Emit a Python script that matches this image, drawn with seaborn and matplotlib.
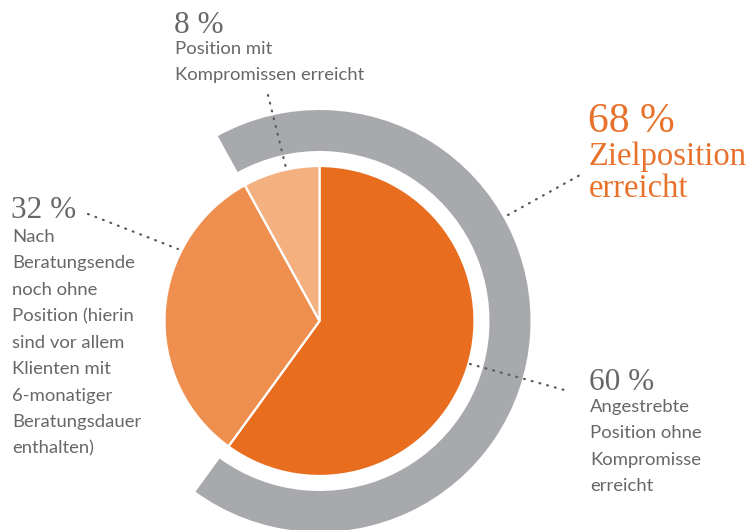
import matplotlib.pyplot as plt
import seaborn as sns

sns.set_style("white")
plt.rcParams["font.family"] = ["Lato", "DejaVu Sans"]

# shares of the inner pie, clockwise from 12 o'clock
shares = [60, 32, 8]
share_labels = ["60 %", "32 %", "8 %"]
share_texts = [
    "Angestrebte\nPosition ohne\nKompromisse\nerreicht",
    "Nach\nBeratungsende\nnoch ohne\nPosition (hierin\nsind vor allem\nKlienten mit\n6-monatiger\nBeratungsdauer\nenthalten)",
    "Position mit\nKompromissen erreicht",
]
total_label = "68 %"
total_text = "Zielposition\nerreicht"

PIE_COLORS = ["#E96D1F", "#EE8F4F", "#F4B07F"]
RING_COLOR = "#A8A9AD"
TEXT_GREY = "#666769"
ORANGE = "#E8712B"
SERIF = ["Liberation Serif", "DejaVu Serif"]

W, H = 754, 530
CX, CY = 319.5, 321
R_PIE = 155
R_RING, RING_W = 211, 41

fig = plt.figure(figsize=(W / 100, H / 100), dpi=100)
ax = fig.add_axes([0, 0, 1, 1])

# pixel-like coordinates, y pointing down; angles then run clockwise on screen
ax.pie(
    shares,
    colors=PIE_COLORS,
    center=(CX, CY),
    radius=R_PIE,
    startangle=-90,
    counterclock=True,
    wedgeprops={"edgecolor": "white", "linewidth": 1.6},
)

# outer grey ring spans the two "reached" shares (60 % + 8 %)
reached = shares[0] + shares[2]
ring_start = -90 - 360 * shares[2] / sum(shares)
ax.pie(
    [reached, sum(shares) - reached],
    colors=[RING_COLOR, "none"],
    center=(CX, CY),
    radius=R_RING,
    startangle=ring_start,
    counterclock=True,
    wedgeprops={"width": RING_W, "linewidth": 0},
)

ax.set_xlim(0, W)
ax.set_ylim(H, 0)
ax.set_aspect("equal")
ax.axis("off")

# dotted leader lines
dots = dict(color="#58595B", linewidth=1.6, linestyle=(0, (0.4, 3.2)),
            dash_capstyle="round")
ax.plot([268, 286], [95, 168], **dots)
ax.plot([88, 178], [214, 249], **dots)
ax.plot([470, 568], [364, 391], **dots)
ax.plot([508, 580], [215, 175], **dots)

body = dict(fontsize=13.3, color=TEXT_GREY, va="top", linespacing=1.8)
pct = dict(family=SERIF, fontsize=22.5, color=TEXT_GREY, va="baseline")

ax.text(174, 33, share_labels[2], **pct)
ax.text(175, 41, share_texts[2], **body)

ax.text(11, 218, share_labels[1], **pct)
ax.text(12, 229, share_texts[1], **body)

ax.text(589, 390, share_labels[0], **pct)
ax.text(590, 399, share_texts[0], **body)

ax.text(588, 132, total_label, family=SERIF, fontsize=30, color=ORANGE,
        va="baseline")
ax.text(589, 142, total_text, family=SERIF, fontsize=23.5, color=ORANGE,
        va="top", linespacing=1.05)

fig.savefig("out.png", dpi=100, facecolor="white")
